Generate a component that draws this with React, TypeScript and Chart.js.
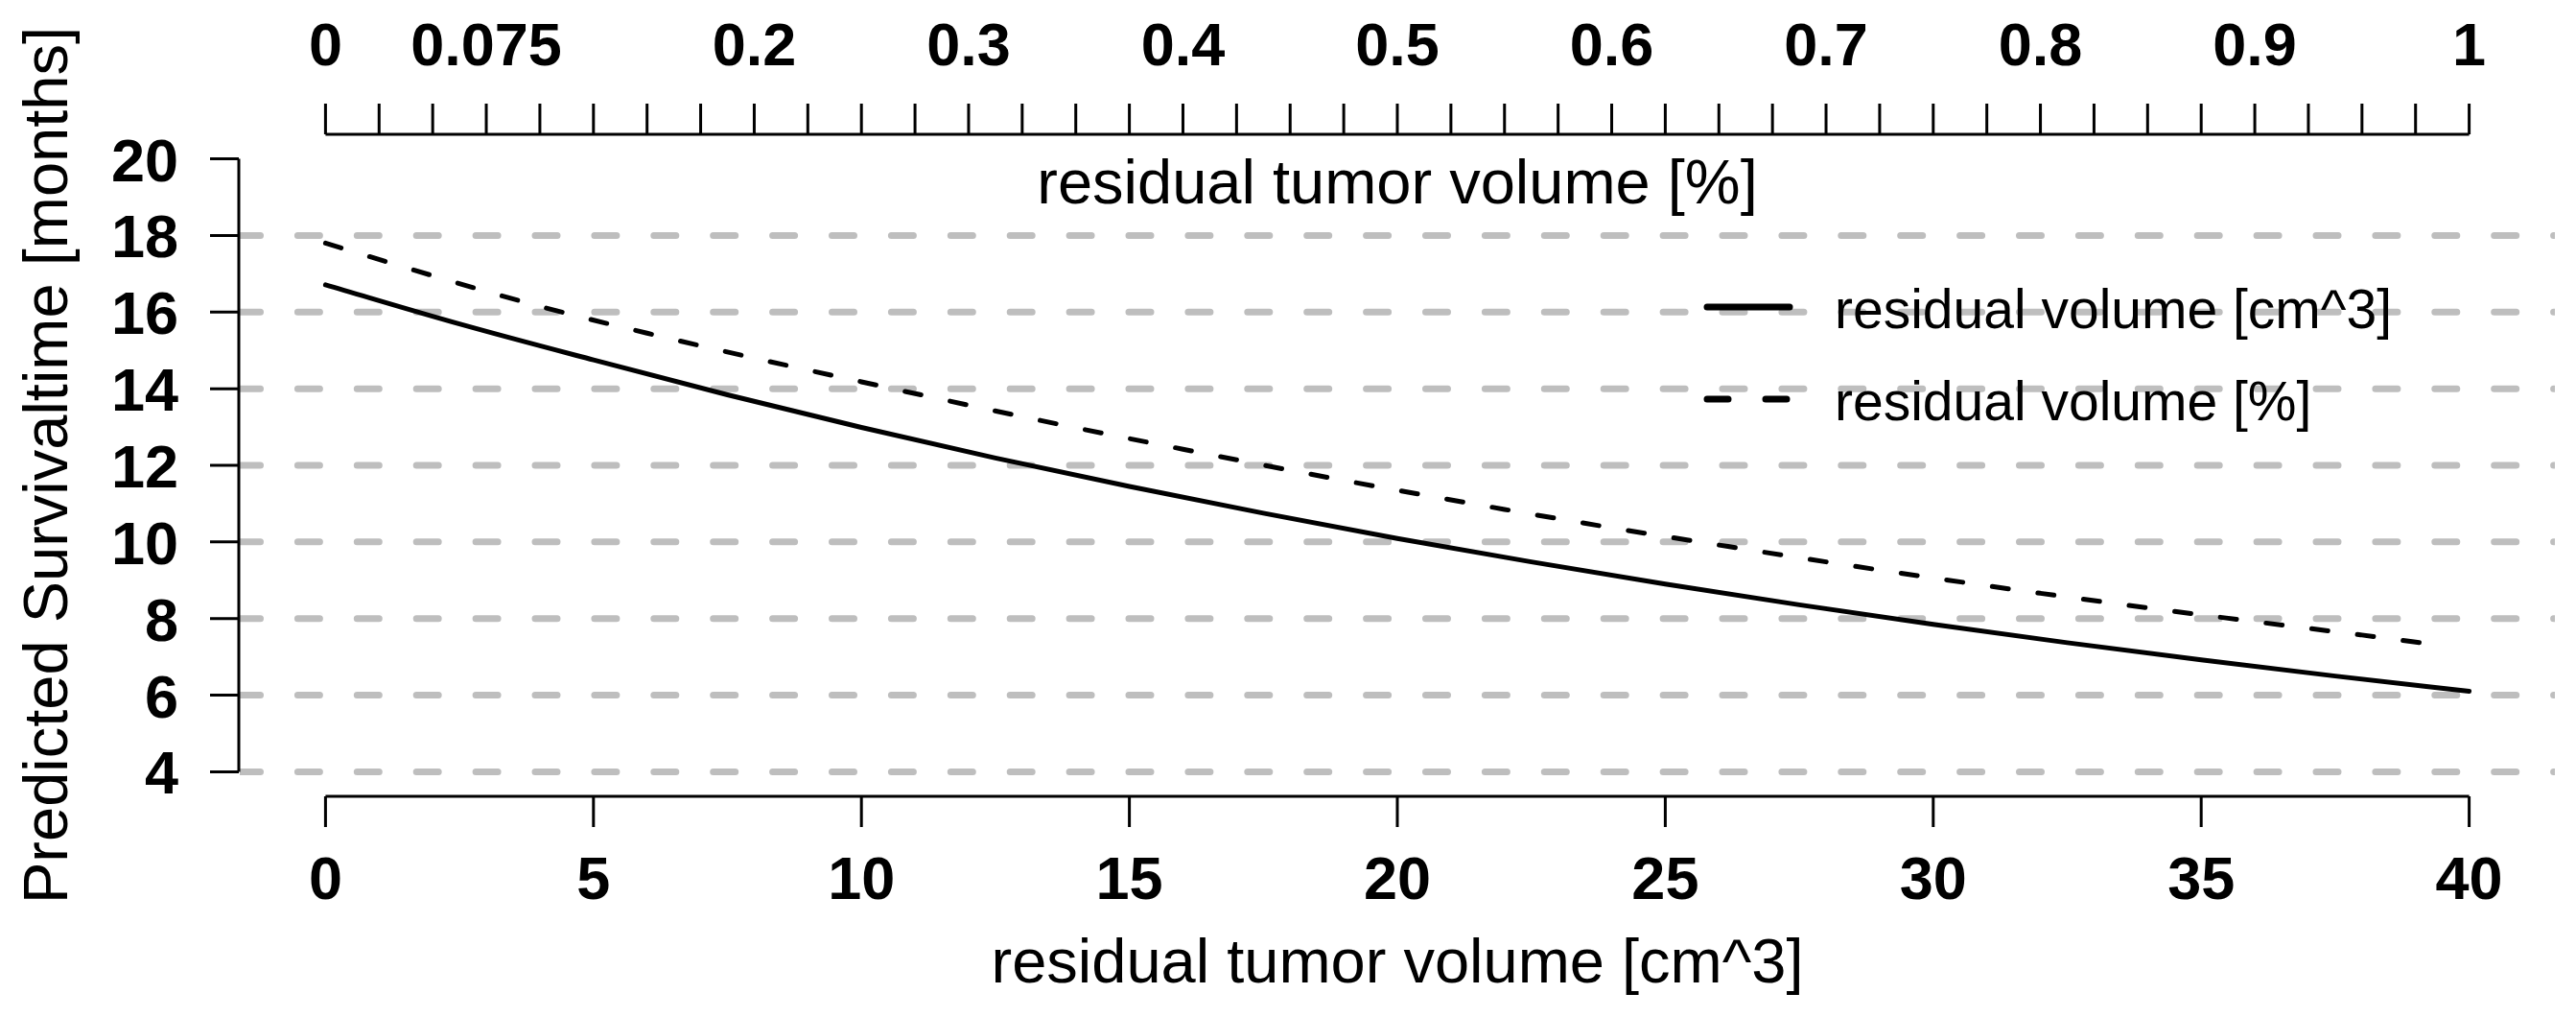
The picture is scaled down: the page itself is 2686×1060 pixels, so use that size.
import { useEffect, useRef } from "react";
import { Chart, registerables } from "chart.js";

Chart.register(...registerables);

// residual volume in cm^3 (bottom axis) and predicted survival in months
const volumeCm3 = [0, 2.5, 5, 7.5, 10, 12.5, 15, 17.5, 20, 22.5, 25, 27.5, 30, 32.5, 35, 37.5, 40];
const survivalCm3 = [16.71, 15.69, 14.75, 13.84, 12.99, 12.19, 11.45, 10.75, 10.09, 9.48, 8.9, 8.36, 7.85, 7.37, 6.92, 6.5, 6.1];

// residual volume as a fraction (top axis)
const volumePct = [0, 0.05, 0.1, 0.15, 0.2, 0.25, 0.3, 0.35, 0.4, 0.45, 0.5, 0.55, 0.6, 0.65, 0.7, 0.75, 0.8, 0.85, 0.9, 0.95, 0.9865];
const survivalPct = [17.8, 16.95, 16.15, 15.45, 14.8, 14.18, 13.57, 12.98, 12.42, 11.87, 11.35, 10.85, 10.37, 9.92, 9.48, 9.06, 8.66, 8.28, 7.92, 7.57, 7.3];

const yTicks = [4, 6, 8, 10, 12, 14, 16, 18, 20];
const yGrid = [4, 6, 8, 10, 12, 14, 16, 18];
const xTicks = [0, 5, 10, 15, 20, 25, 30, 35, 40];
const topTickStep = 0.025;
const topLabelValues = [0, 0.075, 0.2, 0.3, 0.4, 0.5, 0.6, 0.7, 0.8, 0.9, 1];
const topLabels = ["0", "0.075", "0.2", "0.3", "0.4", "0.5", "0.6", "0.7", "0.8", "0.9", "1"];

const FONT = "'Liberation Sans', Arial, Helvetica, sans-serif";

const rStylePlugin = {
  id: "rStyle",
  beforeDatasetsDraw(chart: any) {
    const { ctx, chartArea, scales } = chart;
    ctx.save();
    ctx.beginPath();
    ctx.rect(chartArea.left, chartArea.top, chartArea.right - chartArea.left, chartArea.bottom - chartArea.top);
    ctx.clip();
    ctx.strokeStyle = "#bebebe";
    ctx.lineWidth = 7;
    ctx.lineCap = "round";
    ctx.setLineDash([23, 38.9]);
    for (const v of yGrid) {
      const py = scales.y.getPixelForValue(v);
      ctx.beginPath();
      ctx.moveTo(chartArea.left - 1.5, py);
      ctx.lineTo(chartArea.right + 20, py);
      ctx.stroke();
    }
    ctx.restore();
  },
  afterDatasetsDraw(chart: any) {
    const { ctx, chartArea, scales } = chart;
    const x = scales.x;
    const xTop = scales.xTop;
    const y = scales.y;
    ctx.save();
    ctx.strokeStyle = "#000";
    ctx.fillStyle = "#000";
    ctx.lineWidth = 3;
    ctx.lineCap = "butt";

    // left axis
    const ax = chartArea.left - 1;
    ctx.beginPath();
    ctx.moveTo(ax, y.getPixelForValue(yTicks[0]));
    ctx.lineTo(ax, y.getPixelForValue(yTicks[yTicks.length - 1]));
    for (const v of yTicks) {
      const py = y.getPixelForValue(v);
      ctx.moveTo(ax, py);
      ctx.lineTo(ax - 30, py);
    }
    ctx.stroke();
    ctx.font = `bold 63px ${FONT}`;
    ctx.textAlign = "right";
    ctx.textBaseline = "alphabetic";
    for (const v of yTicks) {
      ctx.fillText(String(v), 186, y.getPixelForValue(v) + 23);
    }

    // bottom axis
    const by = chartArea.bottom;
    ctx.beginPath();
    ctx.moveTo(x.getPixelForValue(xTicks[0]), by);
    ctx.lineTo(x.getPixelForValue(xTicks[xTicks.length - 1]), by);
    for (const v of xTicks) {
      const px = x.getPixelForValue(v);
      ctx.moveTo(px, by);
      ctx.lineTo(px, by + 32);
    }
    ctx.stroke();
    ctx.textAlign = "center";
    for (const v of xTicks) {
      ctx.fillText(String(v), x.getPixelForValue(v), 937);
    }

    // top axis
    const ty = chartArea.top;
    ctx.beginPath();
    ctx.moveTo(xTop.getPixelForValue(0), ty);
    ctx.lineTo(xTop.getPixelForValue(1), ty);
    for (let i = 0; i * topTickStep <= 1.0001; i++) {
      const px = xTop.getPixelForValue(i * topTickStep);
      ctx.moveTo(px, ty);
      ctx.lineTo(px, ty - 32);
    }
    ctx.stroke();
    topLabelValues.forEach((v, i) => {
      ctx.fillText(topLabels[i], xTop.getPixelForValue(v), 68);
    });

    // axis titles
    ctx.font = `65px ${FONT}`;
    const midX = (x.getPixelForValue(0) + x.getPixelForValue(40)) / 2;
    ctx.fillText("residual tumor volume [%]", midX, 212);
    ctx.fillText("residual tumor volume [cm^3]", midX, 1024);
    ctx.save();
    ctx.translate(70, (chartArea.top + chartArea.bottom) / 2);
    ctx.rotate(-Math.PI / 2);
    ctx.fillText("Predicted Survivaltime [months]", 0, 0);
    ctx.restore();

    // legend
    ctx.font = `57px ${FONT}`;
    ctx.textAlign = "left";
    chart.data.datasets.forEach((ds: any, i: number) => {
      const ly = 320 + i * 96;
      ctx.save();
      ctx.lineWidth = 7;
      ctx.lineCap = "round";
      ctx.setLineDash(ds.borderDash && ds.borderDash.length ? [22, 39] : []);
      ctx.beginPath();
      ctx.moveTo(1780, ly);
      ctx.lineTo(1866, ly);
      ctx.stroke();
      ctx.restore();
      ctx.fillText(ds.label, 1913, ly + 22);
    });
    ctx.restore();
  },
};

export default function App() {
  const canvasRef = useRef<HTMLCanvasElement | null>(null);
  const chartRef = useRef<Chart | null>(null);

  useEffect(() => {
    document.body.style.margin = "0";
    if (!canvasRef.current) return;
    if (chartRef.current) chartRef.current.destroy();

    chartRef.current = new Chart(canvasRef.current, {
      type: "line",
      data: {
        datasets: [
          {
            label: "residual volume [cm^3]",
            data: volumeCm3.map((v, i) => ({ x: v, y: survivalCm3[i] })),
            xAxisID: "x",
            yAxisID: "y",
            borderColor: "#000",
            borderWidth: 5,
            pointRadius: 0,
            cubicInterpolationMode: "monotone",
            borderCapStyle: "round",
          },
          {
            label: "residual volume [%]",
            data: volumePct.map((v, i) => ({ x: v, y: survivalPct[i] })),
            xAxisID: "xTop",
            yAxisID: "y",
            borderColor: "#000",
            borderWidth: 5,
            borderDash: [17, 31],
            borderCapStyle: "round",
            pointRadius: 0,
            cubicInterpolationMode: "monotone",
          },
        ],
      },
      options: {
        animation: false,
        responsive: false,
        maintainAspectRatio: false,
        devicePixelRatio: 1,
        layout: { padding: { left: 250, right: 22, top: 140, bottom: 230 } },
        scales: {
          x: { type: "linear", min: -1.6, max: 41.6, display: false },
          xTop: { type: "linear", position: "top", min: -0.04, max: 1.04, display: false },
          y: { type: "linear", min: 3.36, max: 20.64, display: false },
        },
        plugins: {
          legend: { display: false },
          tooltip: { enabled: false },
        },
      },
      plugins: [rStylePlugin],
    });

    return () => {
      if (chartRef.current) {
        chartRef.current.destroy();
        chartRef.current = null;
      }
    };
  }, []);

  return (
    <canvas
      ref={canvasRef}
      width={2686}
      height={1060}
      style={{ display: "block", width: 2686, height: 1060 }}
    ></canvas>
  );
}
